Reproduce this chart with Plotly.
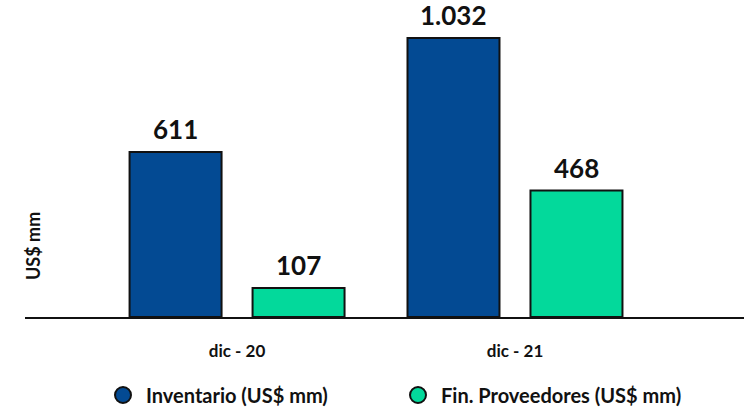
import plotly.graph_objects as go

# data
periodos = ["dic - 20", "dic - 21"]
inventario = [611, 1032]
fin_proveedores = [107, 468]
series_names = ["Inventario (US$ mm)", "Fin. Proveedores (US$ mm)"]

azul = "#034A93"
verde = "#03D99B"
fuente = "Lato"


def fmt(v):
    # miles con punto
    return f"{v:,}".replace(",", ".")


fig = go.Figure()
fig.add_trace(go.Bar(x=periodos, y=inventario, name=series_names[0],
                     marker=dict(color=azul, line=dict(color="#111111", width=2)),
                     showlegend=False))
fig.add_trace(go.Bar(x=periodos, y=fin_proveedores, name=series_names[1],
                     marker=dict(color=verde, line=dict(color="#111111", width=2)),
                     showlegend=False))

# legend entries with round markers
for nm, col in zip(series_names, [azul, verde]):
    fig.add_trace(go.Scatter(x=[None], y=[None], mode="markers", name=nm,
                             marker=dict(symbol="circle", size=20, color=col,
                                         line=dict(color="#111111", width=2))))

# value labels above bars
bargap = 0.115
slot = (1 - bargap) / 2
for k, serie in enumerate([inventario, fin_proveedores]):
    off = (k - 0.5) * slot
    for i, v in enumerate(serie):
        fig.add_annotation(x=i + off, y=v, xref="x", yref="y", text=fmt(v),
                           showarrow=False, yanchor="bottom", yshift=5,
                           font=dict(family=fuente, size=26, color="#111111", weight="bold"))

fig.add_annotation(text="US$ mm", xref="paper", yref="paper",
                   x=0.011, y=0.231, xanchor="center", yanchor="middle",
                   textangle=-90, showarrow=False,
                   font=dict(family=fuente, size=18, color="#111111", weight="bold"))

fig.update_layout(
    width=744, height=407,
    margin=dict(l=25, r=0, t=10, b=90),
    plot_bgcolor="white", paper_bgcolor="white",
    barmode="group", bargap=bargap, bargroupgap=0.252,
    font=dict(family=fuente, color="#111111"),
    xaxis=dict(range=[-0.763, 1.824], showline=True, linecolor="#111111", linewidth=2,
               showgrid=False, ticks="", ticklabelstandoff=18,
               tickfont=dict(family=fuente, size=17, color="#111111", weight="bold")),
    yaxis=dict(range=[0, 1136], visible=False, showgrid=False, zeroline=False),
    legend=dict(orientation="h", xref="container", yref="container",
                x=100 / 744, xanchor="left", y=1 - 395 / 407, yanchor="middle",
                font=dict(family=fuente, size=20, color="#111111", weight="bold"),
                itemsizing="trace", itemwidth=36, entrywidth=244),
)

fig.write_html("out.html", post_script="document.body.style.margin='0';",
               config={"displayModeBar": False})
